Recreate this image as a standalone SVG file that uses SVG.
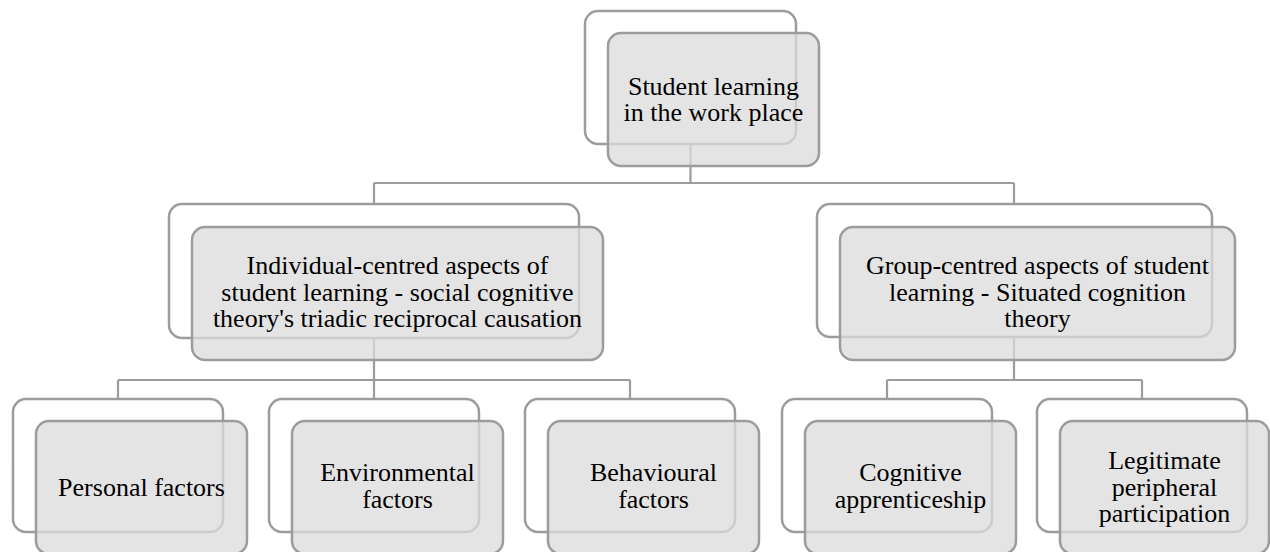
<svg xmlns="http://www.w3.org/2000/svg" width="1270" height="552" viewBox="0 0 1270 552">
<style>
.back{fill:#ffffff;stroke:#9c9c9c;stroke-width:2.5}
.front{fill:#dcdcdc;fill-opacity:0.76;stroke:#9c9c9c;stroke-width:2.5}
.conn{fill:none;stroke:#9c9c9c;stroke-width:2.2}
text{font-family:"Liberation Serif","Times New Roman",serif;font-size:26px;fill:#000;text-anchor:middle}
</style>
<rect width="1270" height="552" fill="#ffffff"/>
<g id="connectors">
<path class="conn" d="M690.5 144 V183 M374 183 H1014 M374 183 V204 M1014 183 V204"/>
<path class="conn" d="M374 338 V380 M118 380 H630 M118 380 V399 M374 380 V399 M630 380 V399"/>
<path class="conn" d="M1014 337 V380 M887 380 H1142 M887 380 V399 M1142 380 V399"/>
</g>
<g id="n-root">
<rect class="back" x="585" y="11" width="211" height="133" rx="13"/>
<rect class="front" x="608" y="33" width="211" height="133" rx="13"/>
<text x="713.5" y="94.5">Student learning</text>
<text x="713.5" y="120.8">in the work place</text>
</g>
<g id="n-individual">
<rect class="back" x="169" y="204" width="410" height="134" rx="13"/>
<rect class="front" x="192" y="227" width="411" height="133" rx="13"/>
<text x="397.5" y="273.5">Individual-centred aspects of</text>
<text x="397.5" y="300.5">student learning - social cognitive</text>
<text x="397.5" y="327">theory's triadic reciprocal causation</text>
</g>
<g id="n-group">
<rect class="back" x="817" y="204" width="395" height="133" rx="13"/>
<rect class="front" x="840" y="227" width="395" height="133" rx="13"/>
<text x="1037.5" y="273.5">Group-centred aspects of student</text>
<text x="1037.5" y="300.5">learning - Situated cognition</text>
<text x="1037.5" y="327">theory</text>
</g>
<g id="n-personal">
<rect class="back" x="13" y="399" width="210" height="133" rx="13"/>
<rect class="front" x="36" y="421" width="211" height="133" rx="13"/>
<text x="141.5" y="495.5">Personal factors</text>
</g>
<g id="n-environmental">
<rect class="back" x="269" y="399" width="210" height="133" rx="13"/>
<rect class="front" x="292" y="421" width="211" height="133" rx="13"/>
<text x="397.5" y="481">Environmental</text>
<text x="397.5" y="507.7">factors</text>
</g>
<g id="n-behavioural">
<rect class="back" x="525" y="399" width="210" height="133" rx="13"/>
<rect class="front" x="548" y="421" width="211" height="133" rx="13"/>
<text x="653.5" y="481">Behavioural</text>
<text x="653.5" y="507.7">factors</text>
</g>
<g id="n-cognitive">
<rect class="back" x="782" y="399" width="210" height="133" rx="13"/>
<rect class="front" x="805" y="421" width="211" height="133" rx="13"/>
<text x="910.5" y="481">Cognitive</text>
<text x="910.5" y="507.7">apprenticeship</text>
</g>
<g id="n-legitimate">
<rect class="back" x="1037" y="399" width="210" height="133" rx="13"/>
<rect class="front" x="1060" y="421" width="209" height="133" rx="13"/>
<text x="1164.5" y="468.5">Legitimate</text>
<text x="1164.5" y="495.5">peripheral</text>
<text x="1164.5" y="522">participation</text>
</g>
</svg>
